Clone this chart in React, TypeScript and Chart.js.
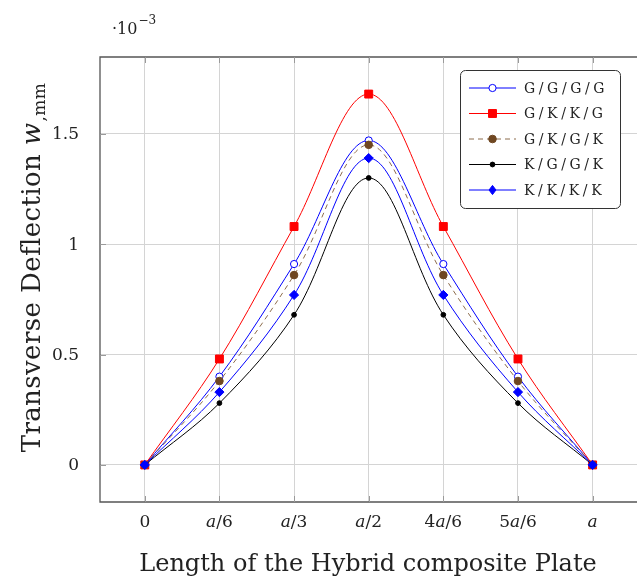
import React, { useEffect, useRef } from 'react';
import { Chart, registerables } from 'chart.js';

Chart.register(...registerables);

// ---- data ----
const xPositions = [0, 1, 2, 3, 4, 5, 6];
const xTickLabels = ['0', 'a/6', 'a/3', 'a/2', '4a/6', '5a/6', 'a'];
const yTickValues = [0, 0.5, 1, 1.5];
const yTickLabels = ['0', '0.5', '1', '1.5'];

const seriesNames = ['G/G/G/G', 'G/K/K/G', 'G/K/G/K', 'K/G/G/K', 'K/K/K/K'];
const GGGG = [0, 0.4, 0.91, 1.47, 0.91, 0.4, 0];
const GKKG = [0, 0.48, 1.08, 1.68, 1.08, 0.48, 0];
const GKGK = [0, 0.38, 0.86, 1.45, 0.86, 0.38, 0];
const KGGK = [0, 0.28, 0.68, 1.3, 0.68, 0.28, 0];
const KKKK = [0, 0.33, 0.77, 1.39, 0.77, 0.33, 0];

const FONT = '"DejaVu Serif", "Liberation Serif", serif';

type Style = {
  line: string;
  dash: number[];
  marker: 'circle' | 'rect' | 'rectRot';
  radius: number;
  fill: string;
  stroke: string;
};

const styles: Style[] = [
  { line: '#0000ff', dash: [], marker: 'circle', radius: 3.6, fill: '#ffffff', stroke: '#0000ff' },
  { line: '#ff0000', dash: [], marker: 'rect', radius: 5.6, fill: '#ff0000', stroke: '#ff0000' },
  { line: '#8c6c4c', dash: [5, 4], marker: 'circle', radius: 3.8, fill: '#6f4722', stroke: '#6f4722' },
  { line: '#000000', dash: [], marker: 'circle', radius: 2.4, fill: '#000000', stroke: '#000000' },
  { line: '#0000ff', dash: [], marker: 'rectRot', radius: 4.6, fill: '#0000ff', stroke: '#0000ff' },
];

const seriesValues = [GGGG, GKKG, GKGK, KGGK, KKKK];

function drawMixed(ctx: CanvasRenderingContext2D, text: string, x: number, y: number, size: number) {
  const parts: { t: string; it: boolean }[] = [];
  for (const ch of text) {
    const it = ch === 'a';
    if (parts.length && parts[parts.length - 1].it === it) parts[parts.length - 1].t += ch;
    else parts.push({ t: ch, it });
  }
  const fontOf = (it: boolean) => `${it ? 'italic ' : ''}${size}px ${FONT}`;
  let w = 0;
  for (const p of parts) {
    ctx.font = fontOf(p.it);
    w += ctx.measureText(p.t).width;
  }
  let cx = x - w / 2;
  ctx.textAlign = 'left';
  for (const p of parts) {
    ctx.font = fontOf(p.it);
    ctx.fillText(p.t, cx, y);
    cx += ctx.measureText(p.t).width;
  }
}

function drawMarker(ctx: CanvasRenderingContext2D, s: Style, x: number, y: number) {
  ctx.save();
  ctx.setLineDash([]);
  ctx.fillStyle = s.fill;
  ctx.strokeStyle = s.stroke;
  ctx.lineWidth = 1;
  ctx.beginPath();
  if (s.marker === 'circle') {
    ctx.arc(x, y, s.radius, 0, Math.PI * 2);
  } else if (s.marker === 'rect') {
    const h = s.radius * Math.SQRT1_2;
    ctx.rect(x - h, y - h, 2 * h, 2 * h);
  } else {
    const r = s.radius;
    ctx.moveTo(x, y - r);
    ctx.lineTo(x + r * 0.75, y);
    ctx.lineTo(x, y + r);
    ctx.lineTo(x - r * 0.75, y);
    ctx.closePath();
  }
  ctx.fill();
  ctx.stroke();
  ctx.restore();
}

const framePlugin = {
  id: 'frame',
  beforeDatasetsDraw(chart: any) {
    const { ctx, chartArea: a } = chart;
    ctx.save();
    ctx.strokeStyle = '#555555';
    ctx.lineWidth = 1.3;
    ctx.beginPath();
    ctx.moveTo(chart.width + 2, a.top);
    ctx.lineTo(a.left, a.top);
    ctx.lineTo(a.left, a.bottom);
    ctx.lineTo(chart.width + 2, a.bottom);
    ctx.stroke();
    ctx.restore();
  },
};

const decorPlugin = {
  id: 'decor',
  afterDraw(chart: any) {
    const ctx: CanvasRenderingContext2D = chart.ctx;
    const area = chart.chartArea;
    const xs = chart.scales.x;
    const ys = chart.scales.y;
    ctx.save();
    ctx.fillStyle = '#222';
    ctx.textBaseline = 'alphabetic';

    // inner tick stubs
    ctx.strokeStyle = '#9a9a9a';
    ctx.lineWidth = 1;
    for (const v of yTickValues) {
      const py = Math.round(ys.getPixelForValue(v)) + 0.5;
      ctx.beginPath();
      ctx.moveTo(area.left, py);
      ctx.lineTo(area.left + 6, py);
      ctx.stroke();
    }
    for (const v of xPositions) {
      const px = Math.round(xs.getPixelForValue(v)) + 0.5;
      ctx.beginPath();
      ctx.moveTo(px, area.bottom);
      ctx.lineTo(px, area.bottom - 6);
      ctx.moveTo(px, area.top);
      ctx.lineTo(px, area.top + 6);
      ctx.stroke();
    }

    // y tick labels
    ctx.font = `17px ${FONT}`;
    ctx.textAlign = 'right';
    ctx.textBaseline = 'middle';
    yTickValues.forEach((v, i) => {
      ctx.fillText(yTickLabels[i], 79, ys.getPixelForValue(v) + 1);
    });

    // x tick labels
    ctx.textBaseline = 'alphabetic';
    xPositions.forEach((v, i) => {
      drawMixed(ctx, xTickLabels[i], xs.getPixelForValue(v), 527, 17);
    });

    // x title
    ctx.font = `24px ${FONT}`;
    ctx.textAlign = 'center';
    ctx.fillText('Length of the Hybrid composite Plate', 368, 571);

    // y title
    ctx.save();
    ctx.translate(40, 268);
    ctx.rotate(-Math.PI / 2);
    (ctx as any).letterSpacing = '0.4px';
    const main = 'Transverse Deflection ';
    ctx.font = `26px ${FONT}`;
    const wMain = ctx.measureText(main).width;
    ctx.font = `italic 26px ${FONT}`;
    const wW = ctx.measureText('w').width;
    ctx.font = `17px ${FONT}`;
    const wSub = ctx.measureText(',mm').width;
    let cx = -(wMain + wW + wSub) / 2;
    ctx.textAlign = 'left';
    ctx.font = `26px ${FONT}`;
    ctx.fillText(main, cx, 0);
    cx += wMain;
    ctx.font = `italic 26px ${FONT}`;
    ctx.fillText('w', cx, 0);
    cx += wW + 1;
    ctx.font = `17px ${FONT}`;
    ctx.fillText(',mm', cx, 5);
    (ctx as any).letterSpacing = '0px';
    ctx.restore();

    // exponent
    ctx.textAlign = 'left';
    ctx.font = `16px ${FONT}`;
    ctx.fillText('\u00b710', 112, 34);
    const w10 = ctx.measureText('\u00b710').width;
    ctx.font = `12px ${FONT}`;
    ctx.fillText('\u22123', 112 + w10 + 1, 24);

    // legend
    const lx = 460.5, ly = 70.5, lw = 160, lh = 138;
    ctx.beginPath();
    ctx.roundRect(lx, ly, lw, lh, 5);
    ctx.fillStyle = '#ffffff';
    ctx.fill();
    ctx.strokeStyle = '#333';
    ctx.lineWidth = 1;
    ctx.stroke();
    seriesNames.forEach((name, i) => {
      const s = styles[i];
      const yy = 88 + i * 25.5;
      ctx.save();
      ctx.strokeStyle = s.line;
      ctx.setLineDash(s.dash);
      ctx.lineWidth = 1;
      ctx.beginPath();
      ctx.moveTo(469, yy);
      ctx.lineTo(516, yy);
      ctx.stroke();
      ctx.restore();
      drawMarker(ctx, s, 492.5, yy);
      ctx.fillStyle = '#222';
      ctx.font = `14px ${FONT}`;
      (ctx as any).letterSpacing = '3.6px';
      ctx.textAlign = 'left';
      ctx.textBaseline = 'middle';
      ctx.fillText(name, 524, yy + 1);
      (ctx as any).letterSpacing = '0px';
    });
    ctx.restore();
  },
};

export default function App() {
  const ref = useRef<HTMLCanvasElement>(null);
  useEffect(() => {
    document.body.style.margin = '0';
    const canvas = ref.current!;
    const chart = new Chart(canvas, {
      type: 'line',
      data: {
        datasets: seriesNames.map((name, i) => {
          const s = styles[i];
          return {
            label: name,
            data: xPositions.map((x, j) => ({ x, y: seriesValues[i][j] })),
            borderColor: s.line,
            borderWidth: 1,
            borderDash: s.dash,
            backgroundColor: s.fill,
            pointStyle: s.marker,
            pointRadius: s.radius,
            pointBackgroundColor: s.fill,
            pointBorderColor: s.stroke,
            pointBorderWidth: 1,
            tension: 0.35,
            fill: false,
            order: 4 - i,
          } as any;
        }),
      },
      options: {
        animation: false,
        responsive: false,
        layout: { padding: { left: 0, right: 0, top: 57, bottom: 0 } },
        plugins: { legend: { display: false }, tooltip: { enabled: false } },
        scales: {
          x: {
            type: 'linear',
            min: -0.6,
            max: 6.6,
            afterBuildTicks: (sc: any) => {
              sc.ticks = xPositions.map((v) => ({ value: v }));
            },
            afterFit: (sc: any) => {
              sc.height = 75;
            },
            ticks: { display: false },
            grid: { color: '#d4d4d4', lineWidth: 1, tickLength: 0 },
            border: { display: false },
          },
          y: {
            type: 'linear',
            min: -0.168,
            max: 1.848,
            afterBuildTicks: (sc: any) => {
              sc.ticks = yTickValues.map((v) => ({ value: v }));
            },
            afterFit: (sc: any) => {
              sc.width = 100;
            },
            ticks: { display: false },
            grid: { color: '#d4d4d4', lineWidth: 1, tickLength: 0 },
            border: { display: false },
          },
        },
      },
      plugins: [framePlugin, decorPlugin],
    });
    return () => chart.destroy();
  }, []);
  return (
    <div style={{ width: 637, height: 577, overflow: 'hidden' }}>
      <canvas ref={ref} width={644} height={577} style={{ display: 'block' }} />
    </div>
  );
}
